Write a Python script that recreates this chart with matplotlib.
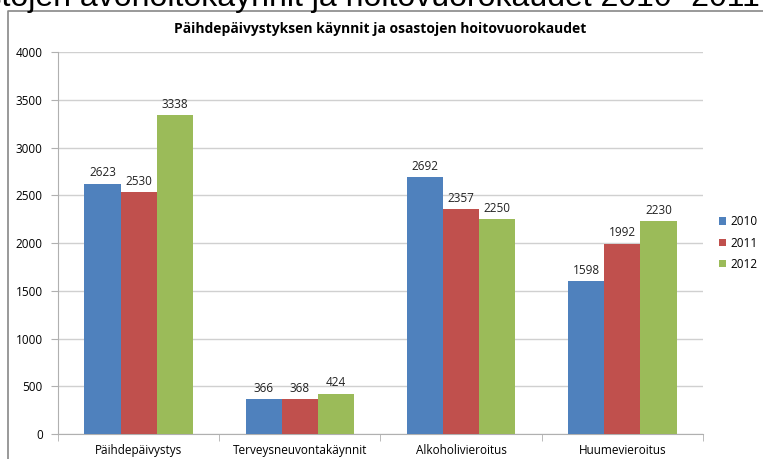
import matplotlib.pyplot as plt
import numpy as np
from matplotlib.lines import Line2D

categories = ["Päihdepäivystys", "Terveysneuvontakäynnit", "Alkoholivieroitus", "Huumevieroitus"]
years = ["2010", "2011", "2012"]
v2010 = [2623, 366, 2692, 1598]
v2011 = [2530, 368, 2357, 1992]
v2012 = [3338, 424, 2250, 2230]
colors = ["#4F81BD", "#C0504D", "#9BBB59"]

plt.rcParams['font.family'] = ['Open Sans', 'DejaVu Sans']

fig = plt.figure(figsize=(7.63, 4.59), dpi=100)
ax = fig.add_axes([58 / 763, 1 - 434 / 459, 645 / 763, 382 / 459])

x = np.arange(len(categories))
w = 0.224
for i, (vals, c, yr) in enumerate(zip([v2010, v2011, v2012], colors, years)):
    pos = x + (i - 1) * w
    ax.bar(pos, vals, w, color=c, label=yr, zorder=3)
    for p, v in zip(pos, vals):
        ax.text(p, v + 45, str(v), ha='center', va='bottom', fontsize=8.5, color='#222222')

ax.set_xlim(-0.5, len(categories) - 0.5)
ax.set_ylim(0, 4000)
ax.set_yticks(range(0, 4001, 500))
ax.yaxis.grid(True, color='#d0d0d0', linewidth=1, zorder=0)
ax.set_xticks(x)
ax.set_xticklabels(categories, fontsize=8.5)
ax.tick_params(axis='x', length=0, pad=7)
ax.set_xticks(np.arange(-0.5, len(categories)), minor=True)
ax.tick_params(axis='x', which='minor', length=5, color='#b0b0b0')
ax.tick_params(axis='y', labelsize=8.5, length=5, color='#b0b0b0', pad=6)
for s in ['top', 'right']:
    ax.spines[s].set_visible(False)
ax.spines['left'].set_color('#b0b0b0')
ax.spines['bottom'].set_color('#b0b0b0')

ax.set_title("Päihdepäivystyksen käynnit ja osastojen hoitovuorokaudet",
             fontsize=10, fontweight='bold', pad=14)

ax.legend(loc='center left', bbox_to_anchor=(1.012, 0.5), frameon=False,
          fontsize=8.5, handlelength=0.6, handleheight=0.6, labelspacing=0.7,
          handletextpad=0.4, borderaxespad=0.3)

# outer chart frame
fig.add_artist(Line2D([8 / 763, 8 / 763, 1], [0, 1 - 11 / 459, 1 - 11 / 459],
                      color='#888888', linewidth=1.2, transform=fig.transFigure))

# slide title, cut off by the top edge as in the source screenshot
fig.text(760 / 763, 1 - 6 / 459, "Osastojen avohoitokäynnit ja hoitovuorokaudet 2010 -2011",
         ha='right', va='baseline', fontsize=23, family=['Liberation Sans', 'DejaVu Sans'])

fig.savefig("out.png", dpi=100)
